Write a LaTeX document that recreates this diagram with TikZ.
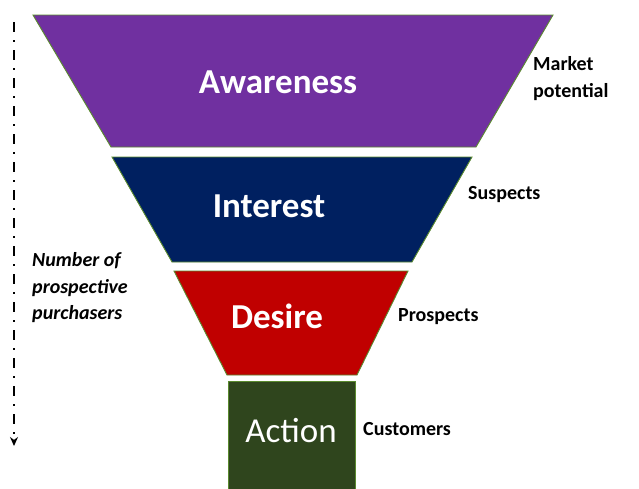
\documentclass[tikz,border=0pt]{standalone}
\usepackage{fontspec}
\setmainfont{Carlito}
\usetikzlibrary{arrows.meta}
\definecolor{aw}{HTML}{7030A0}
\definecolor{in}{HTML}{002060}
\definecolor{de}{HTML}{C00000}
\definecolor{ac}{HTML}{2F451D}
\definecolor{edge}{HTML}{5A8A2E}
\begin{document}
\begin{tikzpicture}[x=1pt,y=-1pt,
  stage/.style={draw=edge, line width=0.9pt},
  big/.style={text=white, inner sep=0pt, font=\bfseries\fontsize{35}{35}\selectfont},
  side/.style={anchor=west, inner sep=0pt, font=\bfseries\fontsize{20}{27}\selectfont, align=left}]
\useasboundingbox (0,0) rectangle (639,488);
\fill[white] (0,0) rectangle (639,488);
% funnel
\filldraw[stage, fill=aw] (33,15) -- (553,15) -- (476,147) -- (111,147) -- cycle;
\filldraw[stage, fill=in] (112,157) -- (472,157) -- (412,262) -- (172,262) -- cycle;
\filldraw[stage, fill=de] (174,271) -- (408,271) -- (357,375) -- (227,375) -- cycle;
\filldraw[stage, fill=ac] (228,381) rectangle (355,490);
\node[big] (aware) at (278,82) {Awareness};
\node[big] (inter) at (269,206) {Interest};
\node[big] (desire) at (277,316) {Desire};
\node[text=white, inner sep=0pt, font=\fontsize{35}{35}\selectfont] (action) at (291,431) {Action};
% side labels
\node[side] (market) at (533,79) {Market\\potential};
\node[side] (susp) at (468,195) {Suspects};
\node[side] (prosp) at (398,317) {Prospects};
\node[side] (cust) at (363,429) {Customers};
% left arrow
\coordinate (top) at (14,22);
\coordinate (bot) at (14,446);
\draw[line width=2.8pt, dash pattern=on 10pt off 8pt on 2pt off 8pt, -{Stealth[length=9pt,width=8pt]}] (top) -- (bot);
\node[anchor=west, inner sep=0pt, font=\bfseries\itshape\fontsize{20}{26.5}\selectfont, align=left] (num) at (32,288) {Number of\\prospective\\purchasers};
\end{tikzpicture}
\end{document}
